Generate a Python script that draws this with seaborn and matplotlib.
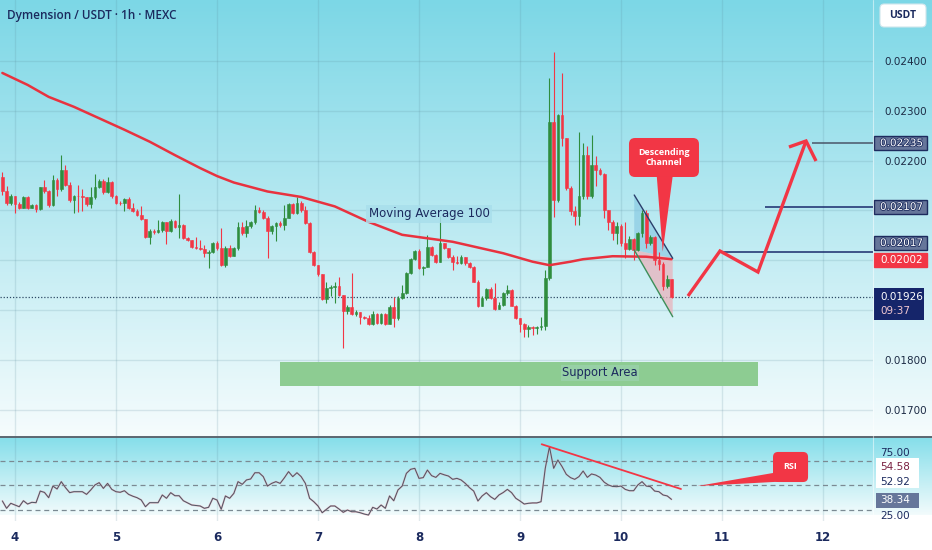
import numpy as np
import matplotlib
matplotlib.use("Agg")
import matplotlib.pyplot as plt
import matplotlib.transforms as mtransforms
import matplotlib.patheffects as pe
from matplotlib.patches import Rectangle, Polygon, FancyBboxPatch
from matplotlib.lines import Line2D
import seaborn as sns

# hourly candles, DYM/USDT, prices in 1e-5 USDT
first_open = 2168
close = [2138, 2115, 2128, 2112, 2105, 2126, 2105, 2111, 2103, 2146,
         2138, 2111, 2161, 2142, 2182, 2152, 2121, 2129, 2128, 2126,
         2112, 2126, 2146, 2160, 2136, 2158, 2128, 2115, 2114, 2123,
         2105, 2099, 2091, 2082, 2047, 2059, 2057, 2061, 2077, 2059,
         2079, 2067, 2071, 2044, 2041, 2027, 2024, 2023, 2015, 2017,
         2034, 2024, 1990, 2025, 2008, 2024, 2066, 2054, 2069, 2076,
         2101, 2097, 2084, 2059, 2069, 2074, 2071, 2085, 2113, 2095,
         2114, 2101, 2075, 2017, 1990, 1972, 1923, 1944, 1946, 1948,
         1930, 1898, 1907, 1892, 1895, 1885, 1883, 1872, 1892, 1874,
         1892, 1872, 1907, 1883, 1924, 1934, 1975, 2002, 2019, 1984,
         1987, 2027, 2010, 1997, 2034, 2024, 2007, 1997, 1995, 2006,
         1994, 1986, 1957, 1908, 1925, 1942, 1924, 1903, 1910, 1934,
         1940, 1909, 1884, 1872, 1862, 1866, 1863, 1866, 1867, 1964,
         2278, 2120, 2292, 2245, 2144, 2099, 2089, 2128, 2211, 2128,
         2191, 2181, 2174, 2101, 2077, 2055, 2069, 2034, 2022, 2043,
         2020, 2055, 2095, 2034, 2047, 2000, 1992, 1948, 1962, 1926]
high = [2178, 2149, 2133, 2129, 2117, 2129, 2129, 2113, 2113, 2147,
        2161, 2141, 2172, 2165, 2211, 2191, 2157, 2131, 2151, 2143,
        2127, 2147, 2174, 2163, 2163, 2168, 2160, 2130, 2119, 2125,
        2127, 2115, 2103, 2109, 2083, 2063, 2063, 2081, 2079, 2077,
        2083, 2081, 2133, 2073, 2047, 2041, 2047, 2041, 2031, 2020,
        2037, 2039, 2065, 2029, 2031, 2027, 2077, 2077, 2081, 2079,
        2111, 2107, 2101, 2089, 2071, 2077, 2079, 2111, 2115, 2115,
        2127, 2119, 2109, 2077, 2018, 1990, 1972, 1956, 1950, 1956,
        1966, 1930, 1910, 1974, 1900, 1896, 1888, 1890, 1898, 1894,
        1894, 1894, 1910, 1926, 1928, 1950, 1976, 2004, 2020, 2022,
        1988, 2051, 2029, 2012, 2089, 2035, 2024, 2010, 2008, 2010,
        2006, 1996, 1988, 1960, 1928, 1944, 1946, 1954, 1916, 1936,
        1950, 1942, 1910, 1884, 1874, 1870, 1868, 1868, 1886, 1980,
        2366, 2419, 2294, 2376, 2245, 2149, 2109, 2258, 2235, 2229,
        2251, 2209, 2185, 2176, 2101, 2081, 2077, 2073, 2077, 2049,
        2045, 2057, 2101, 2101, 2051, 2049, 2016, 1996, 1970, 1962]
low = [2131, 2111, 2111, 2095, 2103, 2105, 2103, 2105, 2097, 2101,
       2135, 2107, 2109, 2129, 2139, 2149, 2117, 2095, 2097, 2099,
       2109, 2104, 2123, 2145, 2133, 2135, 2125, 2113, 2111, 2099,
       2103, 2097, 2089, 2081, 2045, 2033, 2053, 2054, 2057, 2033,
       2057, 2065, 2045, 2043, 2039, 2025, 2022, 2020, 2006, 1984,
       2014, 2020, 1988, 1986, 2006, 2008, 2020, 2051, 2047, 2065,
       2073, 2095, 2083, 2004, 2053, 2039, 2067, 2061, 2085, 2093,
       2093, 2097, 2073, 2014, 1988, 1968, 1920, 1914, 1928, 1914,
       1928, 1824, 1892, 1890, 1888, 1872, 1882, 1870, 1870, 1872,
       1872, 1870, 1872, 1866, 1880, 1922, 1932, 1972, 2000, 1982,
       1970, 1986, 2008, 1994, 1996, 2022, 2004, 1980, 1992, 1992,
       1990, 1984, 1956, 1906, 1908, 1920, 1922, 1900, 1902, 1908,
       1930, 1908, 1882, 1856, 1846, 1846, 1850, 1852, 1860, 1860,
       1960, 2087, 2117, 2229, 2141, 2091, 2071, 2071, 2123, 2123,
       2125, 2149, 2171, 2085, 2061, 2041, 2033, 2028, 2004, 2020,
       2000, 2018, 2047, 2024, 2031, 1990, 1980, 1940, 1944, 1924]

# RSI(14) per candle
rsi = [37.1, 31.1, 35.2, 33.8, 32.4, 37.3, 34.6, 36.0, 35.7, 45.2,
       44.1, 39.8, 49.3, 46.9, 52.9, 48.0, 43.9, 44.7, 44.7, 44.7,
       42.5, 46.1, 50.2, 52.1, 47.4, 51.5, 46.6, 44.7, 44.2, 45.5,
       42.5, 41.0, 39.8, 37.9, 32.4, 35.7, 35.7, 35.7, 42.0, 39.3,
       43.9, 41.4, 41.4, 37.3, 35.5, 33.8, 33.4, 33.0, 31.1, 31.9,
       39.3, 37.9, 30.3, 41.2, 39.3, 43.3, 52.9, 50.7, 54.3, 55.1,
       60.2, 60.2, 57.0, 49.3, 51.5, 52.9, 51.5, 56.0, 61.1, 57.0,
       60.2, 57.0, 51.5, 39.3, 36.5, 33.0, 27.5, 30.3, 33.0, 33.0,
       30.5, 27.8, 29.7, 28.3, 28.3, 27.5, 26.4, 25.6, 31.9, 30.5,
       33.8, 31.1, 41.2, 37.3, 46.1, 49.3, 59.7, 63.0, 63.8, 55.6,
       56.2, 62.4, 57.8, 56.4, 59.7, 58.5, 57.5, 54.8, 55.6, 54.3,
       51.5, 48.0, 45.2, 37.1, 41.2, 43.9, 40.6, 38.4, 42.0, 44.0,
       46.6, 43.9, 39.3, 37.1, 34.6, 35.2, 35.5, 35.5, 36.5, 63.8,
       81.5, 63.8, 70.6, 65.2, 58.9, 56.2, 54.8, 57.0, 61.6, 56.4,
       59.2, 58.3, 56.4, 52.5, 50.2, 49.0, 48.8, 49.3, 46.6, 45.5,
       45.5, 50.2, 52.9, 49.3, 48.8, 45.2, 44.7, 42.0, 41.2, 38.4]

# moving average 100, read at some candles (candle number, price 1e-5)
ma_candle = [1, 7, 12, 18, 24, 30, 36, 42, 48, 52, 56, 64, 72, 80, 88,
             96, 108, 120, 127, 131, 136, 139, 146, 154, 160]
ma_price = [2376, 2352, 2328, 2308, 2285, 2262, 2238, 2211, 2185, 2169, 2156, 2138,
            2127, 2108, 2077, 2051, 2037, 2014, 1997, 1990, 1997, 2002, 2008, 2007, 2002]

day_ticks = [4, 5, 6, 7, 8, 9, 10, 11, 12]
price_ticks = [0.017, 0.018, 0.019, 0.020, 0.021, 0.022, 0.023, 0.024]
price_labels = ["0.01700", "0.01800", "", "", "", "0.02200", "0.02300", "0.02400"]

last_price = 0.01926
ma_last = 0.02002
target_levels = [0.02235, 0.02107, 0.02017]
target_start = [11.89, 11.43, 10.96]
rsi_levels = [70, 50, 30]

support_days = [6.624, 11.353]
support_prices = [0.01748, 0.01795]

channel_days = [10.131, 10.512]
channel_upper = [0.021309, 0.020038]
channel_lower = [0.020205, 0.018865]

path_days = [10.663, 10.980, 11.356, 11.832]
path_prices = [0.019281, 0.020185, 0.019763, 0.022394]
head_days = [11.663, 11.832, 11.931]
head_prices = [0.022273, 0.022394, 0.021992]

rsi_trend_days = [9.215, 10.594]
rsi_trend_vals = [83.5, 46.9]

RED = "#f23645"
GREEN = "#2f8d3e"
NAVY = "#1b2a5e"

sns.set_theme(style="white")
plt.rcParams["font.family"] = ["DejaVu Sans"]

W, H = 932, 550
fig = plt.figure(figsize=(W / 100, H / 100), dpi=100)

# background gradient
col = np.ones((H, 1, 3))
top, bot = np.array([124, 215, 230]) / 255, np.array([246, 252, 253]) / 255
t = np.linspace(0, 1, 437)[:, None]
col[:437, 0, :] = top * (1 - t) + bot * t
top2, bot2 = np.array([133, 222, 234]) / 255, np.array([242, 251, 252]) / 255
t2 = np.linspace(0, 1, 78)[:, None]
col[437:515, 0, :] = top2 * (1 - t2) + bot2 * t2
bg = fig.add_axes([0, 0, 1, 1], zorder=-10)
bg.imshow(col, aspect="auto", extent=[0, 1, 0, 1])
bg.axis("off")

plot_w = 873 / W
ax = fig.add_axes([0, 1 - 437 / H, plot_w, 437 / H])
ax_rsi = fig.add_axes([0, 1 - 521 / H, plot_w, 84 / H], sharex=ax)
for a in (ax, ax_rsi):
    a.set_facecolor("none")
    for s in a.spines.values():
        s.set_visible(False)

# candles
days = 4 + (np.arange(len(close)) - 3) / 24
c = np.array(close) / 1e5
o = np.array([first_open] + close[:-1]) / 1e5
hi = np.array(high) / 1e5
lo = np.array(low) / 1e5
colors = np.where(c >= o, GREEN, RED)
ax.vlines(days, lo, hi, colors=colors, lw=0.8, zorder=3)
ax.bar(days, np.maximum(np.abs(c - o), 0.000012), bottom=np.minimum(o, c),
       width=0.64 / 24, color=colors, edgecolor=colors, linewidth=0.4, zorder=3)

# moving average
ma_days = 4 + (np.array(ma_candle) - 4) / 24
sns.lineplot(x=ma_days, y=np.array(ma_price) / 1e5, ax=ax, color="#e8323f",
             lw=1.8, zorder=4)
ax.text(8.099, 0.020928, "Moving Average 100", ha="center", va="center",
        fontsize=8.5, color=NAVY, zorder=6,
        bbox=dict(boxstyle="square,pad=0.2", fc="#a9dfec", ec="none", alpha=0.85))

ax.axhline(last_price, color="#2e4a66", lw=0.9, ls=(0, (1, 1.5)), zorder=2)

# support area
ax.add_patch(Rectangle((support_days[0], support_prices[0]),
                       support_days[1] - support_days[0],
                       support_prices[1] - support_prices[0],
                       fc="#8dcc92", ec="none", zorder=2))
ax.text(9.795, 0.017741, "Support Area", ha="center", va="center", fontsize=8.3,
        color=NAVY, zorder=6,
        bbox=dict(boxstyle="square,pad=0.12", fc="#97d0a6", ec="none"))

# descending channel
ax.add_patch(Polygon([(channel_days[0], channel_upper[0]), (channel_days[1], channel_upper[1]),
                      (channel_days[0], channel_lower[0])],
                     closed=True, fc="#7fc3e0", ec="none", alpha=0.55, zorder=2))
ax.add_patch(Polygon([(channel_days[0], channel_lower[0]), (channel_days[1], channel_upper[1]),
                      (channel_days[1], channel_lower[1])],
                     closed=True, fc="#e9b3bc", ec="none", alpha=0.75, zorder=2))
ax.plot(channel_days, channel_upper, color="#2b3f6b", lw=1.0, zorder=5)
ax.plot(channel_days, channel_lower, color="#3d8f5a", lw=1.0, zorder=5)

day_px, price_px = 1 / 101, 1 / 49800
ax.add_patch(FancyBboxPatch((10.079, 0.021671), 0.693, 0.000783,
                            boxstyle="round,pad=0,rounding_size=0.06",
                            mutation_aspect=price_px / day_px,
                            fc=RED, ec="none", zorder=7))
ax.add_patch(Polygon([(10.354, 0.02169), (10.512, 0.02169), (10.413, 0.020171)],
                     closed=True, fc=RED, ec="none", zorder=7))
ax.text(10.425, 0.022062, "Descending\nChannel", ha="center", va="center",
        fontsize=6.5, color="white", fontweight="bold", zorder=8,
        family=["Open Sans", "DejaVu Sans"], linespacing=1.05)

# target levels and projected path
for lvl, start in zip(target_levels, target_start):
    ax.hlines(lvl, start, 12.495, color="#4a5568" if lvl == 0.02235 else "#1a2a6c",
              lw=1.1, zorder=5)
ax.plot(path_days, path_prices, color=RED, lw=2.4, zorder=6,
        solid_joinstyle="miter", solid_capstyle="butt")
ax.plot(head_days, head_prices, color=RED, lw=2.4, zorder=6,
        solid_joinstyle="miter", solid_capstyle="butt")

ax.set_xlim(3.8515, 12.495)
ax.set_ylim(0.01645, 0.025225)
ax.set_xticks(day_ticks)
ax.set_yticks(price_ticks)
ax.yaxis.tick_right()
ax.set_yticklabels(price_labels)
ax.tick_params(axis="y", length=0, pad=8, labelsize=7.5, labelcolor="#1c2b45")
ax.tick_params(axis="x", length=0, labelbottom=False)
ax.grid(True, color="#5a8a9a", alpha=0.18, lw=1)

# price scale labels
tr = mtransforms.blended_transform_factory(ax.transAxes, ax.transData)
boxes = [("0.02235", 0.02235, "#66769a", "#1d2b5e"),
         ("0.02107", 0.02107, "#66769a", "#1d2b5e"),
         ("0.02017", 0.020345, "#66769a", "#1d2b5e"),
         ("0.02002", 0.02001, RED, RED)]
bh = 14 * price_px
for txt, yc, fc, ec in boxes:
    ax.add_patch(Rectangle((874 / 873, yc - bh / 2), 53 / 873, bh, transform=tr,
                           fc=fc, ec=ec, lw=1, clip_on=False, zorder=8))
    ax.text(880 / 873, yc, txt, transform=tr, ha="left", va="center", fontsize=7.5,
            color="white", clip_on=False, zorder=9,
            path_effects=[pe.withStroke(linewidth=1.2, foreground=ec)] if fc != RED else None)
ax.add_patch(Rectangle((874 / 873, 0.018799), 50 / 873, 0.000643, transform=tr,
                       fc="#15256a", ec="none", clip_on=False, zorder=8))
ax.text(880 / 873, last_price, "0.01926", transform=tr, ha="left", va="center",
        fontsize=7.5, color="white", clip_on=False, zorder=9)
ax.text(880 / 873, 0.01898, "09:37", transform=tr, ha="left", va="center",
        fontsize=7.5, color="#f3c9d2", clip_on=False, zorder=9)

# RSI panel
ax_rsi.plot(days, rsi, color="#e3a0ad", lw=1.3, alpha=0.7, zorder=3)
sns.lineplot(x=days, y=rsi, ax=ax_rsi, color="#4d5563", lw=0.7, zorder=4)
for lv in rsi_levels:
    ax_rsi.axhline(lv, color="#7b8a93", lw=0.9, ls=(0, (4, 3)), zorder=2)
ax_rsi.plot(rsi_trend_days, rsi_trend_vals, color=RED, lw=1.3, zorder=5)
ax_rsi.add_patch(FancyBboxPatch((11.505, 52.6), 0.347, 24.6,
                                boxstyle="round,pad=0,rounding_size=0.05",
                                mutation_aspect=82.6, fc=RED, ec="none", zorder=6))
ax_rsi.add_patch(Polygon([(10.755, 49.3), (11.52, 60.2), (11.57, 52.9)],
                         closed=True, fc=RED, ec="none", zorder=6))
ax_rsi.text(11.678, 65.5, "RSI", ha="center", va="center", fontsize=6.5,
            color="white", fontweight="bold", family=["Open Sans", "DejaVu Sans"], zorder=7)
ax_rsi.set_ylim(20.72, 89.43)
ax_rsi.set_yticks([])
ax_rsi.set_xticks(day_ticks)
ax_rsi.set_xticklabels([str(d) for d in day_ticks])
ax_rsi.tick_params(axis="x", length=0, pad=7, labelsize=8.5, labelcolor=NAVY)
for lab in ax_rsi.get_xticklabels():
    lab.set_fontweight("bold")
ax_rsi.grid(True, axis="x", color="#5a8a9a", alpha=0.18, lw=1)
ax_rsi.set_xlabel("")
ax_rsi.set_ylabel("")
ax.set_xlabel("")
ax.set_ylabel("")

tr2 = mtransforms.blended_transform_factory(ax_rsi.transAxes, ax_rsi.transData)
ax_rsi.add_patch(Rectangle((876 / 873, 47.7), 43 / 873, 24.3, transform=tr2,
                           fc="white", ec="none", clip_on=False, zorder=8))
ax_rsi.text(880 / 873, 76.0, "75.00", transform=tr2, ha="left", va="center",
            fontsize=7.5, color=NAVY, clip_on=False, zorder=7)
ax_rsi.text(880 / 873, 25, "25.00", transform=tr2, ha="left", va="center",
            fontsize=7.5, color=NAVY, clip_on=False)
ax_rsi.text(880 / 873, 65.2, "54.58", transform=tr2, ha="left", va="center",
            fontsize=7.5, color="#7a2040", clip_on=False, zorder=9)
ax_rsi.text(880 / 873, 52.6, "52.92", transform=tr2, ha="left", va="center",
            fontsize=7.5, color=NAVY, clip_on=False, zorder=9)
ax_rsi.add_patch(Rectangle((876 / 873, 31.3), 43 / 873, 12.3, transform=tr2,
                           fc="#66769a", ec="none", clip_on=False, zorder=8))
ax_rsi.text(880 / 873, 37.5, "38.34", transform=tr2, ha="left", va="center",
            fontsize=7.5, color="white", clip_on=False, zorder=9)

# title, currency tag, separators
fig.text(7 / W, 1 - 16 / H, "Dymension / USDT · 1h · MEXC", ha="left", va="center",
         fontsize=8.5, color=NAVY, fontweight="semibold",
         family=["Open Sans", "DejaVu Sans"])
fig.patches.append(FancyBboxPatch((880 / W, 1 - 27 / H), 46 / W, 23 / H,
                                  boxstyle="round,pad=0,rounding_size=0.0045",
                                  mutation_aspect=W / H, transform=fig.transFigure,
                                  fc="white", ec="#d0e6ec", lw=0.8, figure=fig))
fig.text(903 / W, 1 - 15.5 / H, "USDT", ha="center", va="center", fontsize=7.5,
         color=NAVY, fontweight="bold", family=["Open Sans", "DejaVu Sans"])
fig.lines.append(Line2D([0, 1], [1 - 437 / H, 1 - 437 / H], transform=fig.transFigure,
                        color="#5b6670", lw=1.4, figure=fig))
fig.lines.append(Line2D([plot_w, plot_w], [1 - 521 / H, 1], transform=fig.transFigure,
                        color="white", lw=0.8, alpha=0.5, figure=fig))

fig.savefig("out.png", dpi=100)
